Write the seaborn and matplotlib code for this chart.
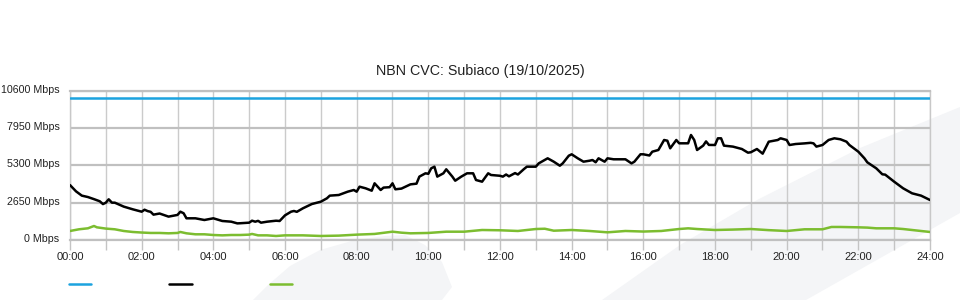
import numpy as np
import pandas as pd
import matplotlib
matplotlib.use("Agg")
import matplotlib.pyplot as plt
from matplotlib.lines import Line2D
from matplotlib.patches import Polygon
from matplotlib.transforms import ScaledTranslation
import seaborn as sns

# ---------------- data ----------------
title = "NBN CVC: Subiaco (19/10/2025)"
y_ticks = [0, 2650, 5300, 7950, 10600]
y_tick_labels = [f"{v} Mbps" for v in y_ticks]
x_tick_hours = list(range(0, 25))
x_tick_labels = [f"{h:02d}:00" if h % 2 == 0 else "" for h in x_tick_hours]

capacity_hours = [0, 24]
capacity_vals = [10050, 10050]

usage_hours = [0.0, 0.17, 0.25, 0.33, 0.5, 0.67, 0.83, 0.92, 1.0, 1.08, 1.17, 1.25, 1.5, 1.75,
               2.0, 2.08, 2.17, 2.25, 2.33, 2.5, 2.75, 3.0, 3.08, 3.17, 3.25, 3.5, 3.75,
               4.0, 4.25, 4.5, 4.67, 4.75, 5.0, 5.08, 5.17, 5.25, 5.33, 5.5, 5.75, 5.85,
               6.0, 6.17, 6.25, 6.33, 6.5, 6.75, 7.0, 7.17, 7.25, 7.5, 7.75, 7.92,
               8.0, 8.08, 8.25, 8.42, 8.5, 8.67, 8.75, 8.92, 9.0, 9.08, 9.25, 9.5, 9.67, 9.75, 9.92,
               10.0, 10.08, 10.17, 10.25, 10.42, 10.5, 10.67, 10.75, 10.92, 11.0, 11.08, 11.25, 11.33,
               11.5, 11.67, 11.75, 12.0, 12.08, 12.17, 12.25, 12.42, 12.5, 12.67, 12.75,
               13.0, 13.08, 13.25, 13.33, 13.5, 13.67, 13.75, 13.92, 14.0, 14.17, 14.25, 14.33,
               14.5, 14.58, 14.67, 14.75, 14.92, 15.0, 15.17, 15.25, 15.5, 15.67, 15.75, 15.92,
               16.0, 16.17, 16.25, 16.42, 16.58, 16.67, 16.75, 16.92, 17.0, 17.25, 17.33, 17.42,
               17.5, 17.67, 17.75, 17.83, 18.0, 18.08, 18.17, 18.25, 18.5, 18.75, 18.92,
               19.0, 19.17, 19.33, 19.5, 19.75, 19.83, 20.0, 20.08, 20.25, 20.5, 20.67, 20.75, 20.83,
               21.0, 21.17, 21.33, 21.5, 21.67, 21.75, 22.0, 22.17, 22.25, 22.5, 22.67, 22.75,
               23.0, 23.25, 23.5, 23.75, 24.0]
usage_vals = [3900, 3450, 3300, 3150, 3050, 2900, 2750, 2550, 2650, 2890, 2650, 2650, 2370, 2180,
              2010, 2150, 2050, 2000, 1800, 1880, 1660, 1780, 2010, 1900, 1540, 1540, 1420,
              1540, 1350, 1300, 1180, 1190, 1230, 1370, 1300, 1360, 1230, 1300, 1370, 1350,
              1750, 2010, 2060, 2000, 2250, 2555, 2720, 2960, 3150, 3195, 3430, 3550,
              3430, 3785, 3670, 3500, 4025, 3550, 3720, 3750, 4025, 3600, 3650, 3950, 4000, 4500, 4735,
              4700, 5090, 5205, 4500, 4735, 5020, 4500, 4210, 4500, 4615, 4735, 4735, 4260,
              4140, 4735, 4615, 4560, 4500, 4650, 4520, 4750, 4650, 5040, 5205,
              5205, 5440, 5680, 5800, 5560, 5275, 5440, 5985, 6085, 5800, 5680, 5560,
              5630, 5680, 5520, 5800, 5560, 5800, 5730, 5730, 5730, 5440, 5560, 6085,
              6085, 6000, 6270, 6390, 7100, 7050, 6510, 7100, 6865, 6865, 7455, 7100,
              6390, 6700, 7000, 6750, 6745, 7220, 7220, 6700, 6630, 6460, 6200,
              6230, 6460, 6130, 6980, 7100, 7220, 7100, 6745, 6815, 6860, 6900, 6860, 6630,
              6745, 7100, 7220, 7150, 6980, 6745, 6270, 5800, 5515, 5090, 4665, 4640,
              4140, 3670, 3315, 3150, 2840]

upload_hours = [0, 0.25, 0.5, 0.67, 0.75, 1.0, 1.25, 1.5, 1.75, 2.0, 2.25, 2.5, 2.75, 3.0, 3.08,
                3.25, 3.5, 3.75, 4.0, 4.25, 4.5, 4.75, 5.0, 5.08, 5.25, 5.5, 5.75, 6.0, 6.5,
                7.0, 7.5, 8.0, 8.5, 9.0, 9.25, 9.5, 10.0, 10.5, 11.0, 11.5, 12.0, 12.5, 13.0,
                13.25, 13.5, 14.0, 14.5, 15.0, 15.5, 16.0, 16.5, 17.0, 17.25, 17.5, 18.0, 18.5,
                19.0, 19.5, 20.0, 20.5, 21.0, 21.25, 21.5, 22.0, 22.25, 22.5, 23.0, 23.25,
                23.5, 24.0]
upload_vals = [640, 760, 830, 995, 900, 810, 760, 640, 570, 530, 500, 500, 475, 500, 570,
               475, 405, 405, 355, 330, 355, 355, 380, 430, 330, 330, 285, 330, 330,
               285, 310, 380, 430, 590, 520, 475, 500, 590, 590, 710, 690, 640, 780,
               800, 660, 710, 640, 545, 640, 600, 640, 780, 828, 780, 710, 740,
               780, 700, 640, 760, 760, 925, 925, 900, 880, 830, 830, 780,
               710, 570]

series_colors = ["#1ca3df", "#000000", "#7cbd30"]

# ---------------- figure ----------------
sns.set_theme(style="white")
plt.rcParams["font.family"] = ["Liberation Sans", "DejaVu Sans"]

W, H = 960, 300
fig = plt.figure(figsize=(9.6, 3.0), dpi=100)
fig.patch.set_facecolor("white")

def fpts(pts):
    return [(x / W, 1 - y / H) for x, y in pts]

shapeA = [(253, 300), (268, 285), (290, 266), (320, 250), (355, 240), (385, 236), (405, 235),
          (425, 245), (442, 262), (452, 287), (442, 300)]
shapeB = [(602, 300), (680, 245), (757, 200), (860, 148), (960, 107), (960, 213), (806, 300)]
for s in (shapeA, shapeB):
    fig.patches.append(Polygon(fpts(s), closed=True, transform=fig.transFigure,
                               facecolor="#f4f5f7", edgecolor="none", zorder=-10))

ax = fig.add_axes([70 / W, 60 / H, 860 / W, (240 - 90.7) / H])
ax.patch.set_alpha(0)

df_cap = pd.DataFrame({"hour": capacity_hours, "Mbps": capacity_vals})
df_use = pd.DataFrame({"hour": usage_hours, "Mbps": usage_vals})
df_up = pd.DataFrame({"hour": upload_hours, "Mbps": upload_vals})

sns.lineplot(data=df_up, x="hour", y="Mbps", ax=ax, color=series_colors[2], linewidth=1.8, zorder=3)
sns.lineplot(data=df_use, x="hour", y="Mbps", ax=ax, color=series_colors[1], linewidth=1.8, zorder=4)
sns.lineplot(data=df_cap, x="hour", y="Mbps", ax=ax, color=series_colors[0], linewidth=1.8, zorder=5)

ax.set_xlim(0, 24)
ax.set_ylim(0, 10600)
ax.set_xlabel("")
ax.set_ylabel("")

ax.set_xticks(x_tick_hours)
ax.set_xticklabels(x_tick_labels)
ax.set_yticks(y_ticks)
ax.set_yticklabels(y_tick_labels)

ax.tick_params(axis="x", length=7.5, width=1.0, color="#c4c4c4", pad=1, labelsize=8, labelcolor="#222222",
               bottom=True)
ax.tick_params(axis="y", length=0, pad=7.5, labelsize=7.7, labelcolor="#222222", left=True)

up = ScaledTranslation(0, 2 / 100, fig.dpi_scale_trans)
for lab in ax.get_yticklabels():
    lab.set_transform(lab.get_transform() + up)

ax.xaxis.grid(True, color="#cbcbcb", linewidth=1.0, zorder=0)
ax.yaxis.grid(True, color="#c0c0c0", linewidth=1.6, zorder=0)
ax.set_axisbelow(True)
for side, sp in ax.spines.items():
    sp.set_visible(True)
    sp.set_color("#c8c8c8")
    sp.set_linewidth(1.0)
ax.spines["top"].set_color("#c0c0c0")
ax.spines["top"].set_linewidth(1.6)
ax.spines["bottom"].set_color("#c0c0c0")
ax.spines["bottom"].set_linewidth(1.6)

fig.text(0.5, 1 - 71 / H, title, ha="center", va="center", fontsize=10.3, color="#222222")

handles = [Line2D([], [], color=c, linewidth=1.8) for c in series_colors]
leg = fig.legend(handles, ["", "", ""], ncol=3, loc="center left",
                 bbox_to_anchor=(69 / W, 1 - 285 / H), frameon=False, fontsize=8,
                 handlelength=2.0, handletextpad=0.0, columnspacing=7.03,
                 borderpad=0, borderaxespad=0)
if ax.get_legend() is not None:
    ax.get_legend().remove()

fig.savefig("out.png", dpi=100, facecolor="white")
